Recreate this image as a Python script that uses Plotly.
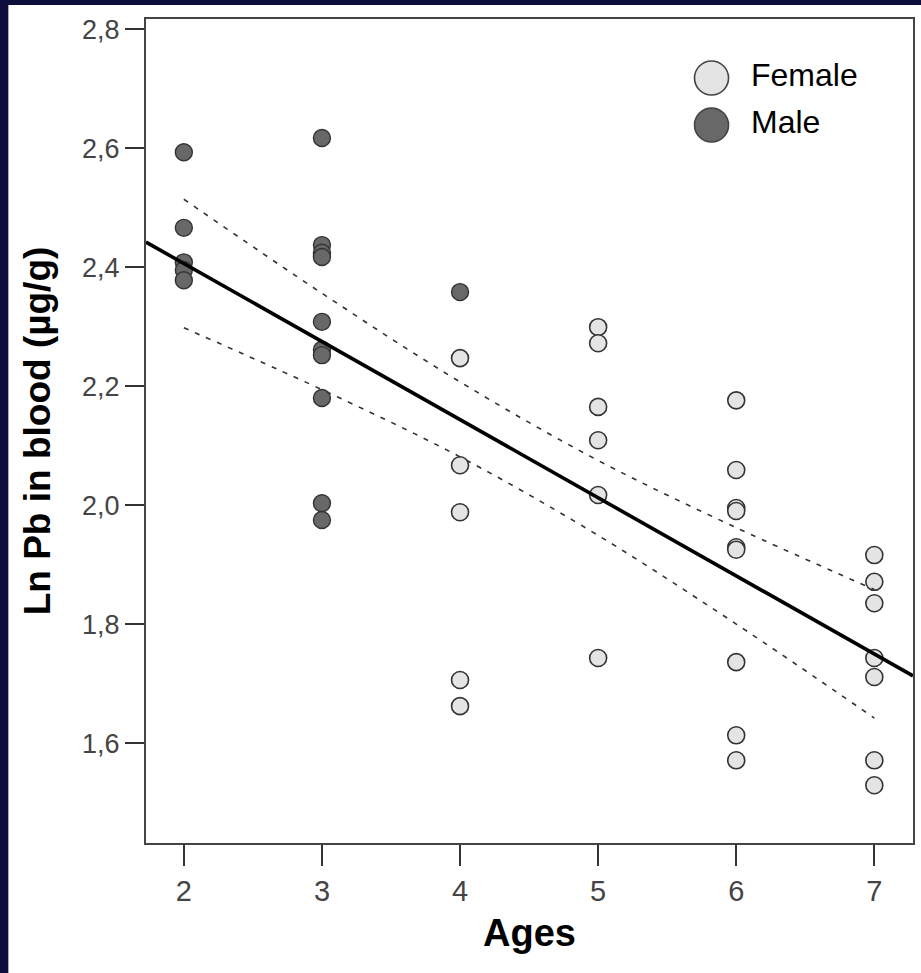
import plotly.graph_objects as go

# ---- data ----
female_age = [4, 4, 4, 4, 4, 5, 5, 5, 5, 5, 5, 6, 6, 6, 6, 6, 6, 6, 6, 6,
              7, 7, 7, 7, 7, 7, 7]
female_pb = [2.247, 2.067, 1.988, 1.706, 1.662, 2.299, 2.272, 2.165, 2.109, 2.017, 1.743,
             2.176, 2.059, 1.995, 1.990, 1.929, 1.925, 1.736, 1.613, 1.571,
             1.916, 1.871, 1.835, 1.743, 1.711, 1.571, 1.529]
male_age = [2, 2, 2, 2, 2, 3, 3, 3, 3, 3, 3, 3, 3, 3, 3, 4]
male_pb = [2.593, 2.466, 2.408, 2.395, 2.378,
           2.617, 2.437, 2.424, 2.417, 2.308, 2.261, 2.252, 2.180, 2.003, 1.975,
           2.358]

fit_age = [1.726, 7.28]
fit_pb = [2.442, 1.713]

band_age = [2, 3, 4, 5, 6, 7]
band_upper = [2.514, 2.356, 2.207, 2.075, 1.962, 1.858]
band_lower = [2.298, 2.194, 2.081, 1.949, 1.800, 1.642]

y_ticks = [1.6, 1.8, 2.0, 2.2, 2.4, 2.6, 2.8]
x_ticks = [2, 3, 4, 5, 6, 7]

legend_names = ["Female", "Male"]
legend_fill = ["#e4e4e4", "#686868"]

FONT = "Liberation Sans, Arial, sans-serif"

fig = go.Figure()

fig.add_trace(go.Scatter(
    x=female_age, y=female_pb, mode="markers", name="Female",
    marker=dict(size=17, color=legend_fill[0], line=dict(color="#333333", width=1.6)),
    showlegend=False, cliponaxis=False))
fig.add_trace(go.Scatter(
    x=male_age, y=male_pb, mode="markers", name="Male",
    marker=dict(size=17, color=legend_fill[1], line=dict(color="#333333", width=1.4)),
    showlegend=False, cliponaxis=False))

fig.add_trace(go.Scatter(
    x=band_age, y=band_upper, mode="lines", line=dict(color="#333333", width=1.6, dash="5px,7px", shape="spline"),
    showlegend=False, hoverinfo="skip"))
fig.add_trace(go.Scatter(
    x=band_age, y=band_lower, mode="lines", line=dict(color="#333333", width=1.6, dash="5px,7px", shape="spline"),
    showlegend=False, hoverinfo="skip"))
fig.add_trace(go.Scatter(
    x=fit_age, y=fit_pb, mode="lines", line=dict(color="#000000", width=3.6),
    showlegend=False, hoverinfo="skip"))

L, R, T, B = 146, 6, 19, 130
W, H = 921, 973
pw, ph = W - L - R, H - T - B

def px_x(p):
    return (p - L) / pw

def px_y(p):
    return (H - B - p) / ph

shapes = [
    # white slide panel behind chart
    dict(type="rect", xref="paper", yref="paper", layer="below",
         x0=px_x(8), x1=px_x(W + 5), y0=px_y(H + 5), y1=px_y(5),
         fillcolor="white", line=dict(width=0)),
]
annotations = []
leg_y = [78, 125]
for i, name in enumerate(legend_names):
    shapes.append(dict(type="circle", xref="paper", yref="paper",
                       xsizemode="pixel", ysizemode="pixel",
                       xanchor=px_x(713), yanchor=px_y(leg_y[i]),
                       x0=-17, x1=17, y0=-17, y1=17,
                       fillcolor=legend_fill[i], line=dict(color="#444444", width=1.6)))
    annotations.append(dict(xref="paper", yref="paper", x=px_x(751), y=px_y(leg_y[i] - 3),
                            xanchor="left", yanchor="middle", showarrow=False,
                            text=name, font=dict(family=FONT, size=32, color="#000000")))

fig.update_layout(
    width=W, height=H,
    margin=dict(l=L, r=R, t=T, b=B, pad=0),
    paper_bgcolor="#0e0e3c",
    plot_bgcolor="white",
    separators=",.",
    showlegend=False,
    shapes=shapes,
    annotations=annotations,
    xaxis=dict(range=[1.726, 7.28], tickvals=x_ticks, ticks="outside", ticklen=21,
               tickwidth=2, tickcolor="#333333", showgrid=False, zeroline=False,
               showline=True, linecolor="#444444", linewidth=2, mirror=True,
               tickfont=dict(family=FONT, size=29, color="#444444"),
               title=dict(text="<b>Ages</b>", standoff=14,
                          font=dict(family=FONT, size=38, color="#000000"))),
    yaxis=dict(range=[1.432, 2.817], tickvals=y_ticks, tickformat=".1f", ticks="outside",
               ticklen=19, tickwidth=2, tickcolor="#333333", showgrid=False, zeroline=False,
               showline=True, linecolor="#444444", linewidth=2, mirror=True,
               tickfont=dict(family=FONT, size=27, color="#444444"),
               title=dict(text="<b>Ln Pb in blood (µg/g)</b>", standoff=20,
                          font=dict(family=FONT, size=37, color="#000000"))),
)

fig.write_html("out.html")
